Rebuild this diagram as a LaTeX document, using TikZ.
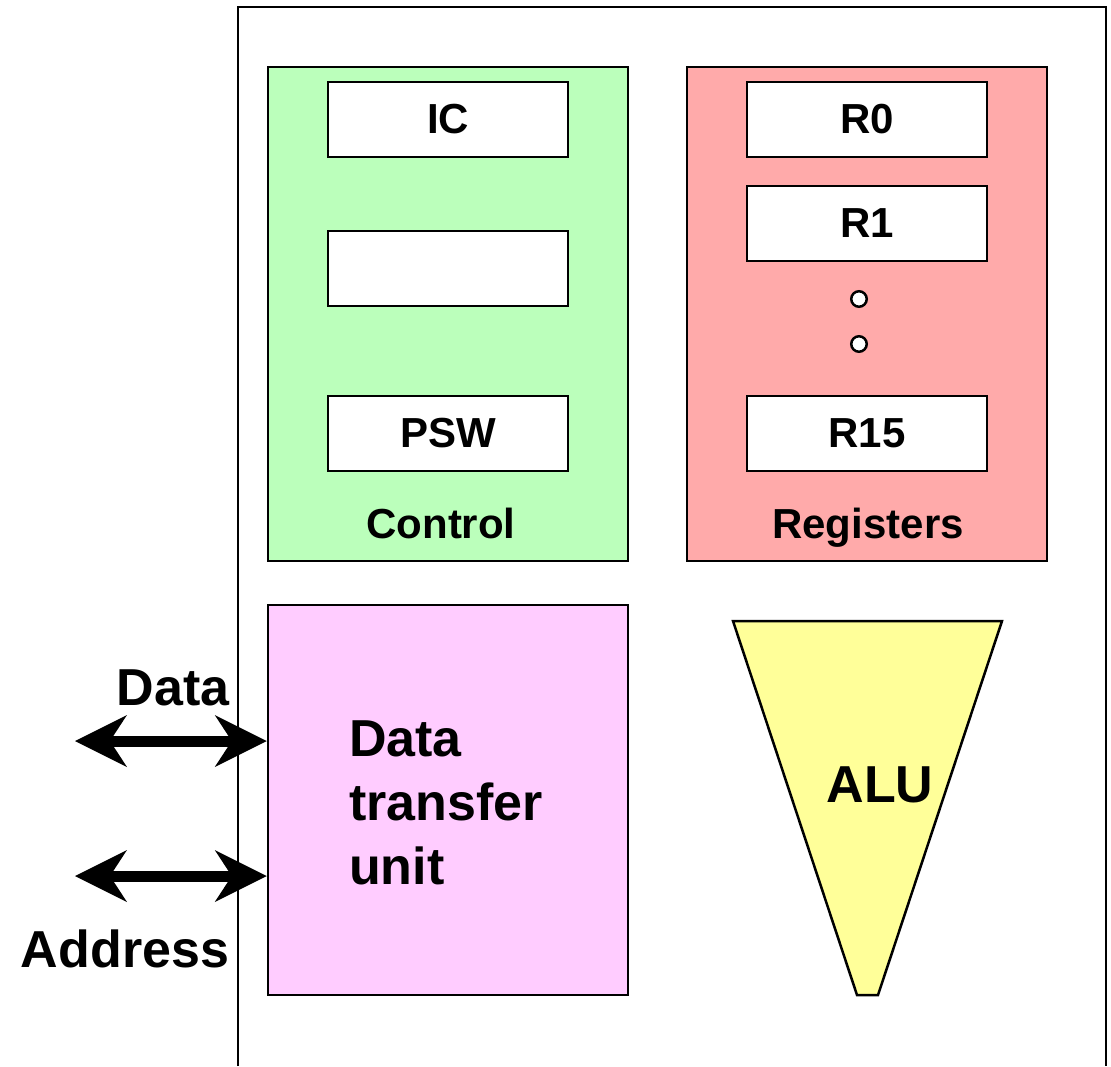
\documentclass[tikz,border=0pt]{standalone}
\usepackage{fontspec}
\setmainfont{Liberation Sans}
\usetikzlibrary{arrows.meta}
\definecolor{ctrlgreen}{RGB}{187,255,187}
\definecolor{regred}{RGB}{255,170,170}
\definecolor{dtupink}{RGB}{255,204,255}
\definecolor{aluyellow}{RGB}{255,255,153}
\begin{document}
\begin{tikzpicture}[x=1pt,y=-1pt,
  panel/.style={draw,line width=2.5pt,minimum width=360pt,inner sep=0pt},
  regbox/.style={draw,line width=2.5pt,fill=white,minimum width=240pt,minimum height=75pt,inner sep=0pt,
    font=\fontsize{42}{50}\selectfont\bfseries},
  panellabel/.style={anchor=base,inner sep=0pt,font=\fontsize{42}{50}\selectfont\bfseries},
  biglabel/.style={inner sep=0pt,font=\fontsize{52}{64}\selectfont\bfseries},
  dot/.style={circle,draw,line width=2.5pt,fill=white,minimum size=15.5pt,inner sep=0pt},
  bus/.style={line width=11pt,
    {Stealth[length=52pt,width=52pt,inset=17pt,line width=0pt]}-{Stealth[length=52pt,width=52pt,inset=17pt,line width=0pt]}}]
\useasboundingbox (0,0) rectangle (1111,1066);

% processor outline, open at the bottom
\draw[line width=2pt] (238,1066) -- (238,7) -- (1106,7) -- (1106,1066);

% control unit
\node[panel,fill=ctrlgreen,minimum height=494pt] (ctrl) at (448,314) {};
\node[regbox] (ic) at (448,119.5) {IC};
\node[regbox] (blank) at (448,268.5) {};
\node[regbox] (psw) at (448,433.5) {PSW};
\node[panellabel] (ctrllbl) at (441,538) {Control};

% register file
\node[panel,fill=regred,minimum height=494pt] (regs) at (867,314) {};
\node[regbox] (r0) at (867,119.5) {R0};
\node[regbox] (r1) at (867,223.5) {R1};
\node[dot] (dotA) at (859,299) {};
\node[dot] (dotB) at (859,344) {};
\node[regbox] (r15) at (867,433.5) {R15};
\node[panellabel] (regslbl) at (868,538) {Registers};

% data transfer unit
\node[panel,fill=dtupink,minimum height=390pt] (dtu) at (448,800) {};
\node[biglabel,anchor=north west,align=left] (dtulbl) at (349,721) {Data\\transfer\\unit};

% arithmetic logic unit
\draw[line width=2.5pt,fill=aluyellow] (733,621) -- (1002,621) -- (878,995) -- (857,995) -- cycle;
\node[biglabel,anchor=base] (alulbl) at (880,802) {ALU};

% external buses
\coordinate (dataend) at (75,741);
\coordinate (addrend) at (75,876);
\draw[bus] (dataend) -- (dtu.west |- dataend);
\draw[bus] (addrend) -- (dtu.west |- addrend);
\node[biglabel,anchor=base] (datalbl) at (173,705) {Data};
\node[biglabel,anchor=base] (addrlbl) at (125,967) {Address};
\end{tikzpicture}
\end{document}
